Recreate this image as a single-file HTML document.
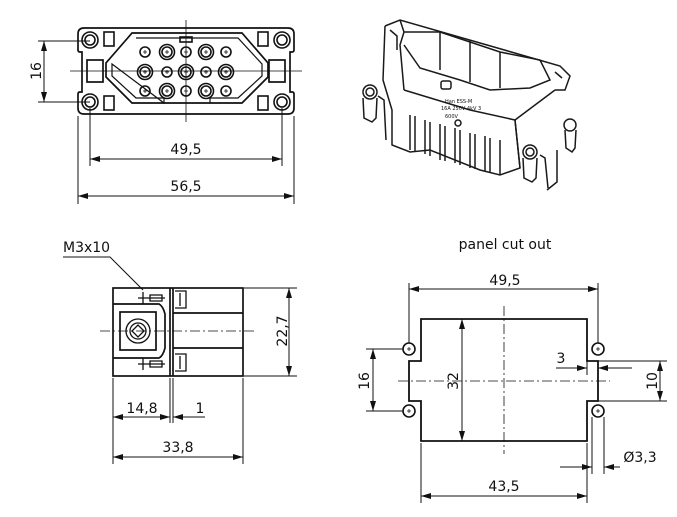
<!DOCTYPE html>
<html><head><meta charset="utf-8"><style>
html,body{margin:0;padding:0;background:#fff;}
svg{display:block;}
text{font-family:"DejaVu Sans","Liberation Sans",sans-serif;font-size:14px;fill:#111;}
</style></head><body>
<svg width="677" height="517" viewBox="0 0 677 517" xmlns="http://www.w3.org/2000/svg">
<defs>
<marker id="a" viewBox="0 0 10 6" refX="10" refY="3" markerWidth="10" markerHeight="6" orient="auto-start-reverse" markerUnits="userSpaceOnUse"><path d="M0,0 L10,3 L0,6 z" fill="#111"/></marker>
</defs>
<g stroke="#111" fill="none" stroke-width="1">
<!-- ===== TOP LEFT FRONT VIEW ===== -->
<g stroke-width="1.7">
<path d="M84,28 H288 Q294,28 294,34 V50 Q294,52 292,52 H290 V92 H292 Q294,92 294,94 V108 Q294,114 288,114 H84 Q78,114 78,108 V94 Q78,92 80,92 H82 V52 H80 Q78,52 78,50 V34 Q78,28 84,28 Z"/>
<path d="M132,33 H242 L268,63 V77 L242,103 H132 L106,77 V63 Z"/>
<path d="M136,38 H238 L262,64 V76 L238,98 H210 V103 M164,103 V98 H136 L112,76 V64 Z" stroke-width="1.2"/>
<rect x="87" y="60" width="16" height="22"/><rect x="269" y="60" width="16" height="22"/>
</g>
<g stroke-width="1.6">
<circle cx="90" cy="40" r="8"/><circle cx="90" cy="40" r="5"/>
<circle cx="282" cy="40" r="8"/><circle cx="282" cy="40" r="5"/>
<circle cx="90" cy="102" r="8"/><circle cx="90" cy="102" r="5"/>
<circle cx="282" cy="102" r="8"/><circle cx="282" cy="102" r="5"/>
<rect x="104" y="32" width="10" height="14"/><rect x="258" y="32" width="10" height="14"/>
<rect x="104" y="96" width="10" height="14"/><rect x="258" y="96" width="10" height="14"/>
<rect x="180" y="37" width="12" height="5"/>
</g>
<g stroke-width="1.6">
<circle cx="145" cy="52" r="5"/><circle cx="167" cy="52" r="7.5"/><circle cx="167" cy="52" r="5"/><circle cx="186" cy="52" r="5"/><circle cx="206" cy="52" r="7.5"/><circle cx="206" cy="52" r="5"/><circle cx="226" cy="52" r="5"/>
<circle cx="145" cy="72" r="7.5"/><circle cx="145" cy="72" r="5"/><circle cx="167" cy="72" r="5"/><circle cx="186" cy="72" r="7.5"/><circle cx="186" cy="72" r="5"/><circle cx="206" cy="72" r="5"/><circle cx="226" cy="72" r="7.5"/><circle cx="226" cy="72" r="5"/>
<circle cx="145" cy="91" r="5"/><circle cx="167" cy="91" r="7.5"/><circle cx="167" cy="91" r="5"/><circle cx="186" cy="91" r="5"/><circle cx="206" cy="91" r="7.5"/><circle cx="206" cy="91" r="5"/><circle cx="226" cy="91" r="5"/>
</g>
<g stroke-width="0.8">
<path d="M143,52h4M145,50v4M165,52h4M167,50v4M184,52h4M186,50v4M204,52h4M206,50v4M224,52h4M226,50v4"/>
<path d="M143,72h4M145,70v4M165,72h4M167,70v4M184,72h4M186,70v4M204,72h4M206,70v4M224,72h4M226,70v4"/>
<path d="M143,91h4M145,89v4M165,91h4M167,89v4M184,91h4M186,89v4M204,91h4M206,89v4M224,91h4M226,89v4"/>
</g>
<path d="M186,20 V122 M70,71 H302" stroke-width="0.8"/>
<!-- dims -->
<path d="M38,41 H90 M38,102 H90"/>
<line x1="44" y1="41" x2="44" y2="102" marker-start="url(#a)" marker-end="url(#a)"/>
<path d="M90,108 V166 M282,108 V166 M78,116 V204 M294,116 V204"/>
<line x1="90" y1="159" x2="282" y2="159" marker-start="url(#a)" marker-end="url(#a)"/>
<line x1="78" y1="196" x2="294" y2="196" marker-start="url(#a)" marker-end="url(#a)"/>

<!-- ===== 3D VIEW (simplified) ===== -->
<g stroke="#1a1a1a" stroke-width="1.5">
<path d="M385,26 L400,20 L560,66 L570,76 L565,90 L555,90 M385,26 L383,80 L392,110 L392,145 L410,152 L430,150 L480,170 L500,175 L520,168 L515,120 L555,90"/>
<path d="M400,20 L404,32 L400,45 L404,90 M404,32 L440,32 L500,52 L540,60 L550,80 L530,88 L490,90 L460,80 L420,68 L404,45"/>
<path d="M440,32 V70 M470,40 V82 M500,52 V88 M515,120 L520,168 M390,30 L397,36 V50 M555,72 L562,78"/>
<path d="M404,90 L470,110 L515,120"/>
<path d="M410,115 V150 M415,116 V151 M425,120 V154 M430,122 V156 M440,124 V160 M445,126 V161 M455,128 V163 M460,130 V165 M470,133 V168 M475,134 V169 M485,136 V171 M490,138 V172 M500,140 V175"/>
<circle cx="370" cy="92" r="7"/><circle cx="370" cy="92" r="4"/><path d="M363,98 L364,118 L372,122 L376,118 L377,98"/>
<circle cx="530" cy="152" r="7"/><circle cx="530" cy="152" r="4"/><path d="M523,158 L524,178 L532,182 L536,178 L537,158"/>
<circle cx="570" cy="125" r="6"/><path d="M565,130 L566,148 L572,152 L575,148 L576,130"/>
<path d="M378,96 L384,100 L386,140 M540,155 L545,158 L548,188 M557,150 V182 L547,190"/>
<rect x="441" y="81" width="10" height="8" rx="2"/><circle cx="458" cy="123" r="3"/>
</g>
<g stroke="none" fill="#222">
<text x="445" y="103" style="font-size:5px">Han ESS-M</text>
<text x="441" y="110" style="font-size:5px">16A 250V 4kV 3</text>
<text x="445" y="118" style="font-size:5px">600V</text>
</g>

<!-- ===== SIDE VIEW ===== -->
<g stroke-width="1.7">
<rect x="113" y="288" width="130" height="88"/>
<path d="M170,288 V376 M173,288 V376"/>
<path d="M173,313 H243 M173,348 H243"/>
<path d="M113,304 H159 Q163,306 165,314 V348 Q163,356 159,358 H113"/>
<rect x="120" y="312" width="36" height="38"/>
</g>
<g stroke-width="1.3">
<circle cx="138" cy="331" r="12"/><circle cx="138" cy="331" r="8"/>
<path d="M132,331 L138,325 L144,331 L138,337 Z"/>
<path d="M138,298 H165 M138,364 H165 M143,292 V304 M143,358 V370 M150,295 H162 V301 H150 Z M150,361 H162 V367 H150 Z"/>
<path d="M175,291 H186 V308 H175 M175,354 H186 V371 H175 M180,293 V306 M180,356 V369"/>
</g>
<path d="M100,331 H254" stroke-width="0.8" stroke-dasharray="10,3,2,3"/>
<path d="M63,257 H110 L143,290"/>
<path d="M244,288 H297 M244,376 H297"/>
<line x1="289" y1="288" x2="289" y2="376" marker-start="url(#a)" marker-end="url(#a)"/>
<path d="M113,378 V464 M243,378 V464 M170,378 V423 M173,378 V423"/>
<line x1="113" y1="417" x2="170" y2="417" marker-start="url(#a)" marker-end="url(#a)"/>
<line x1="205" y1="417" x2="173" y2="417" marker-end="url(#a)"/>
<line x1="113" y1="457" x2="243" y2="457" marker-start="url(#a)" marker-end="url(#a)"/>

<!-- ===== PANEL CUT OUT ===== -->
<path d="M421,319 H587 V361 H598 V401 H587 V441 H421 V401 H409 V361 H421 Z" stroke-width="1.8"/>
<g stroke-width="1.6">
<circle cx="409" cy="349" r="6"/><circle cx="409" cy="411" r="6"/>
<circle cx="598" cy="349" r="6"/><circle cx="598" cy="411" r="6"/>
</g>
<path d="M398,381 H610 M504,306 V454" stroke-width="0.8" stroke-dasharray="10,3,2,3"/>
<path d="M407,349h4M409,347v4M407,411h4M409,409v4M596,349h4M598,347v4M596,411h4M598,409v4" stroke-width="0.8"/>
<path d="M409,283 V343 M598,283 V343 M366,349 H403 M366,411 H403"/>
<line x1="409" y1="289" x2="598" y2="289" marker-start="url(#a)" marker-end="url(#a)"/>
<line x1="373" y1="349" x2="373" y2="411" marker-start="url(#a)" marker-end="url(#a)"/>
<line x1="462" y1="319" x2="462" y2="441" marker-start="url(#a)" marker-end="url(#a)"/>
<path d="M587,361 V375 M598,361 V375"/>
<line x1="556" y1="368" x2="587" y2="368" marker-end="url(#a)"/>
<line x1="632" y1="368" x2="598" y2="368" marker-end="url(#a)"/>
<path d="M598,361 H667 M598,401 H667"/>
<line x1="660" y1="361" x2="660" y2="401" marker-start="url(#a)" marker-end="url(#a)"/>
<path d="M592,417 V474 M604,417 V474 M421,443 V503 M587,443 V503"/>
<line x1="560" y1="467" x2="592" y2="467" marker-end="url(#a)"/>
<line x1="620" y1="467" x2="604" y2="467" marker-end="url(#a)"/>
<line x1="421" y1="496" x2="587" y2="496" marker-start="url(#a)" marker-end="url(#a)"/>
</g>

<!-- labels -->
<text x="36" y="71" text-anchor="middle" transform="rotate(-90 36 71)" dy="5">16</text>
<text x="186" y="154" text-anchor="middle">49,5</text>
<text x="186" y="191" text-anchor="middle">56,5</text>
<text x="63" y="252">M3x10</text>
<text x="282" y="331" text-anchor="middle" transform="rotate(-90 282 331)" dy="5">22,7</text>
<text x="142" y="413" text-anchor="middle">14,8</text>
<text x="200" y="413" text-anchor="middle">1</text>
<text x="178" y="452" text-anchor="middle">33,8</text>
<text x="505" y="249" text-anchor="middle">panel cut out</text>
<text x="505" y="285" text-anchor="middle">49,5</text>
<text x="364" y="381" text-anchor="middle" transform="rotate(-90 364 381)" dy="5">16</text>
<text x="453" y="381" text-anchor="middle" transform="rotate(-90 453 381)" dy="5">32</text>
<text x="561" y="363" text-anchor="middle">3</text>
<text x="652" y="381" text-anchor="middle" transform="rotate(-90 652 381)" dy="5">10</text>
<text x="640" y="462" text-anchor="middle">Ø3,3</text>
<text x="504" y="491" text-anchor="middle">43,5</text>
</svg>
</body></html>
